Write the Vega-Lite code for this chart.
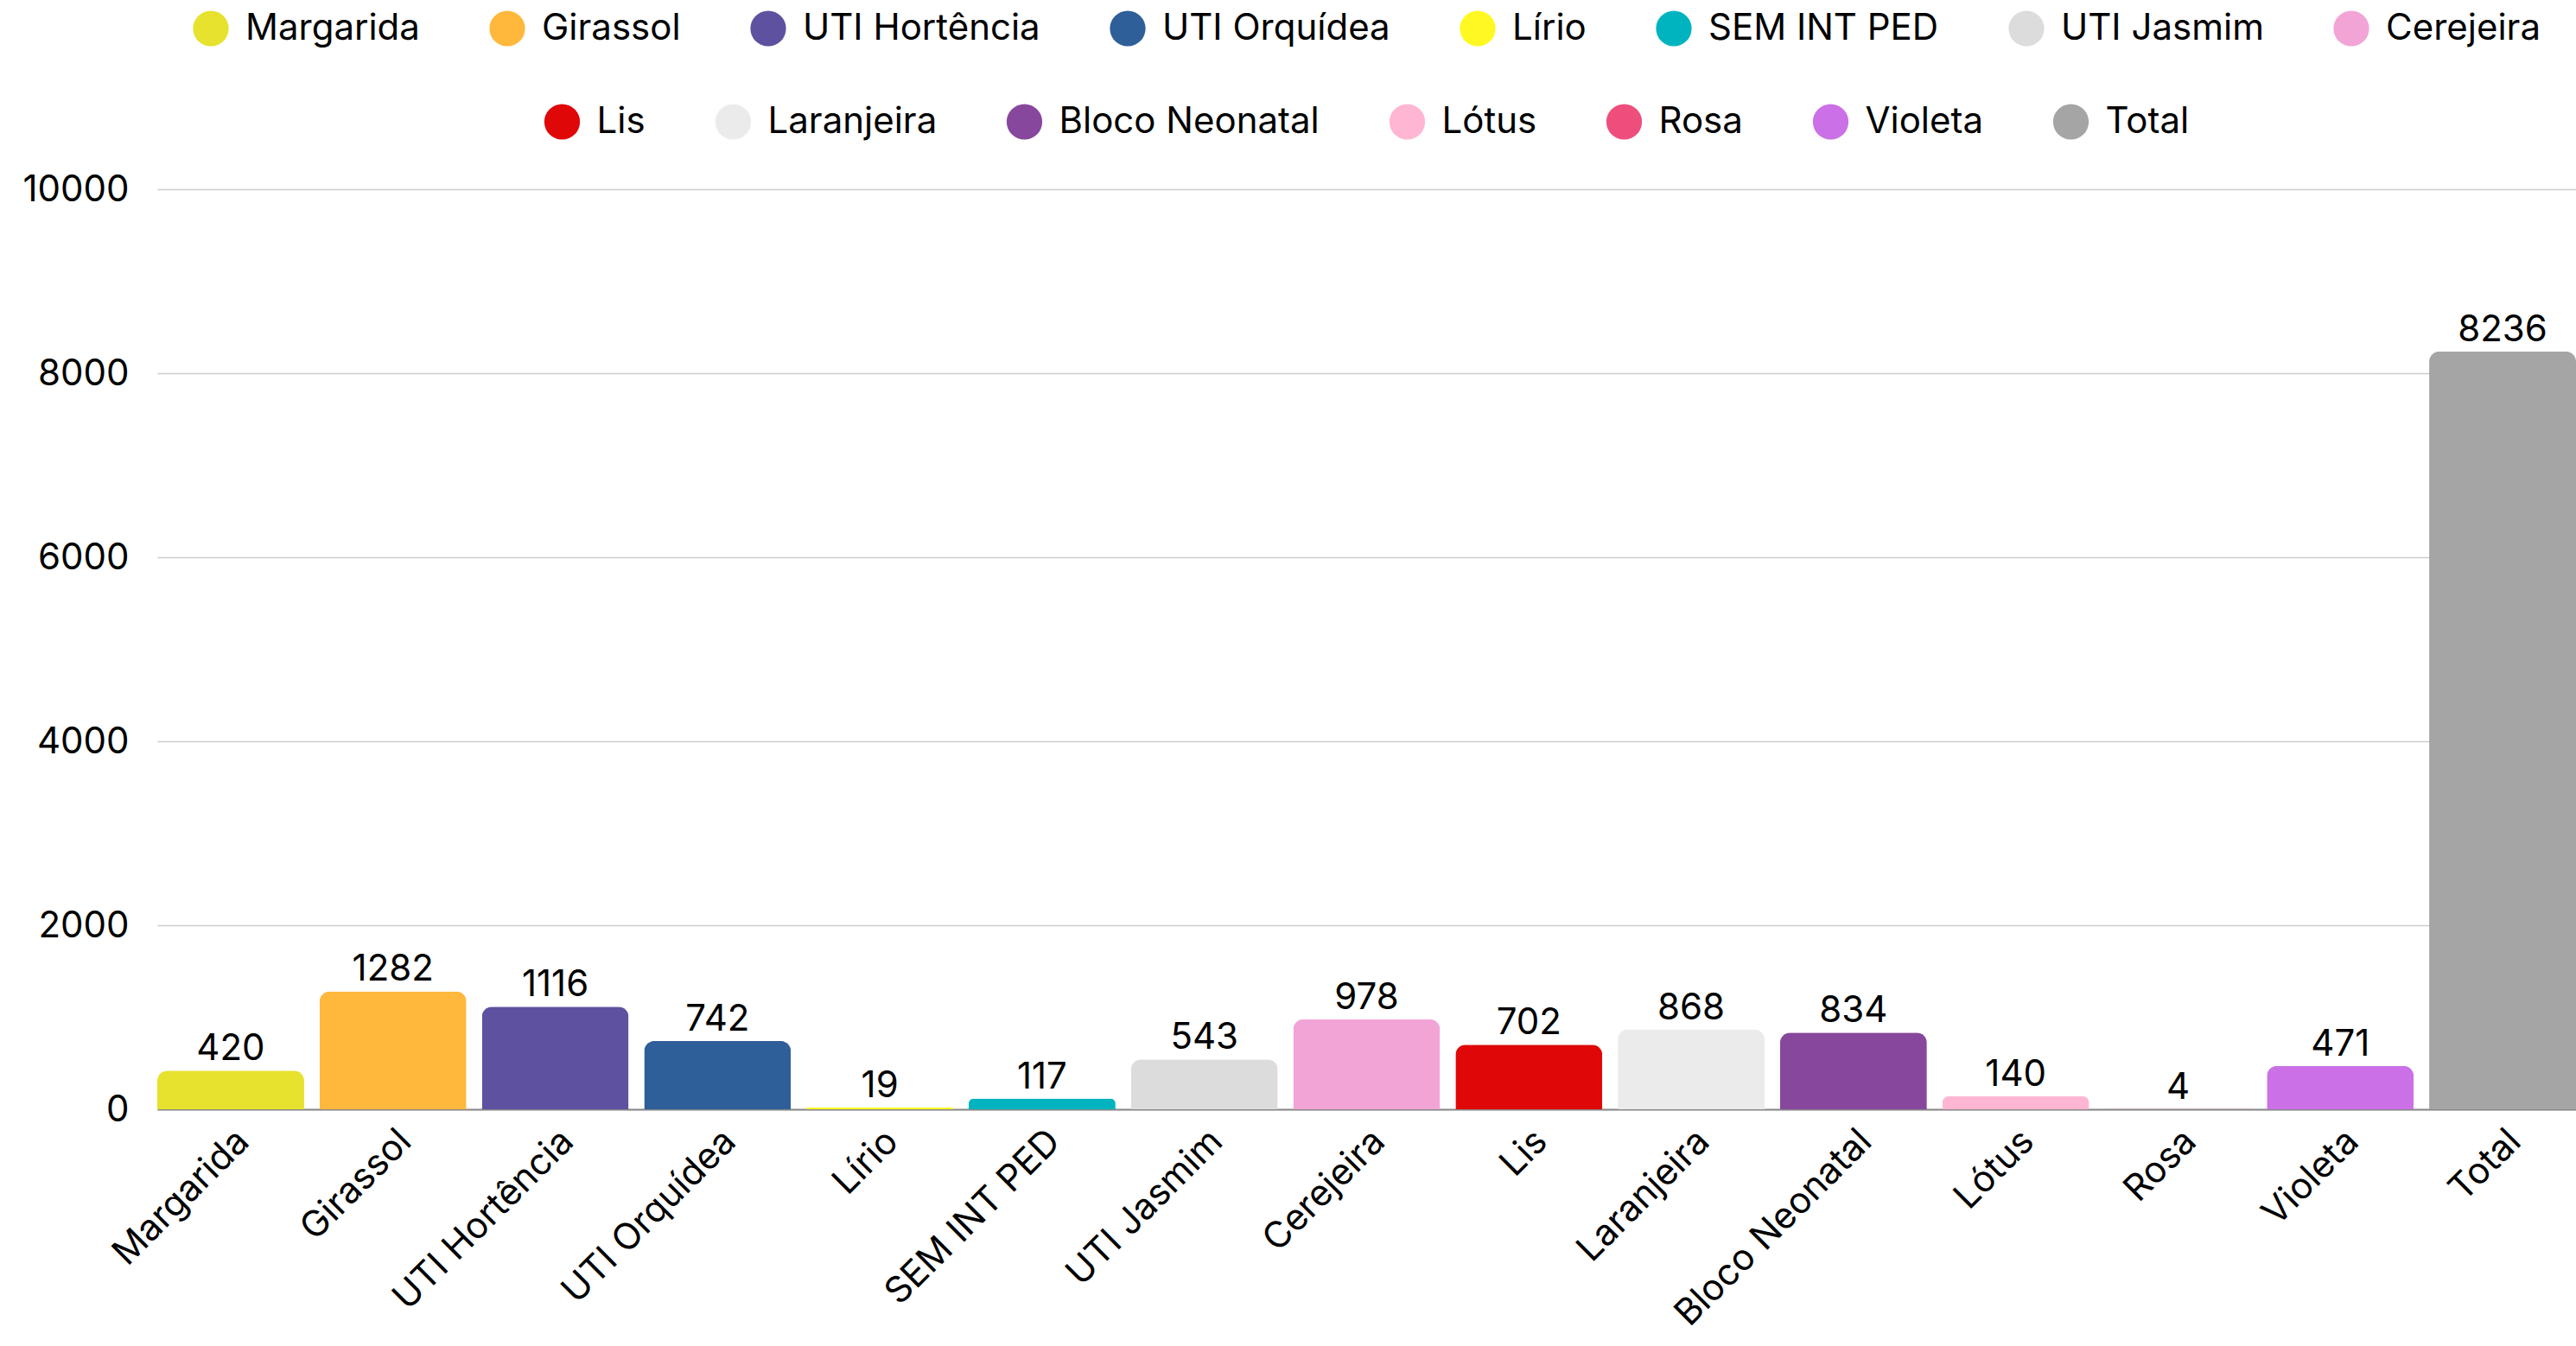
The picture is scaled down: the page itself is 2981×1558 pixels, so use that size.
{
  "$schema": "https://vega.github.io/schema/vega-lite/v6.json",
  "width": 2799,
  "height": 1065,
  "autosize": {"type": "none"},
  "padding": {"left": 182, "top": 219, "right": 0, "bottom": 274},
  "background": "white",
  "data": {
    "values": [
      {"name": "Margarida", "value": 420, "grp": 1},
      {"name": "Girassol", "value": 1282, "grp": 1},
      {"name": "UTI Hortência", "value": 1116, "grp": 1},
      {"name": "UTI Orquídea", "value": 742, "grp": 1},
      {"name": "Lírio", "value": 19, "grp": 1},
      {"name": "SEM INT PED", "value": 117, "grp": 1},
      {"name": "UTI Jasmim", "value": 543, "grp": 1},
      {"name": "Cerejeira", "value": 978, "grp": 1},
      {"name": "Lis", "value": 702, "grp": 2},
      {"name": "Laranjeira", "value": 868, "grp": 2},
      {"name": "Bloco Neonatal", "value": 834, "grp": 2},
      {"name": "Lótus", "value": 140, "grp": 2},
      {"name": "Rosa", "value": 4, "grp": 2},
      {"name": "Violeta", "value": 471, "grp": 2},
      {"name": "Total", "value": 8236, "grp": 2}
    ]
  },
  "encoding": {
    "x": {
      "field": "name",
      "type": "nominal",
      "sort": null,
      "scale": {
        "domain": ["Margarida", "Girassol", "UTI Hortência", "UTI Orquídea", "Lírio", "SEM INT PED", "UTI Jasmim", "Cerejeira", "Lis", "Laranjeira", "Bloco Neonatal", "Lótus", "Rosa", "Violeta", "Total"],
        "paddingInner": 0.095,
        "paddingOuter": 0
      },
      "axis": {
        "title": null,
        "labelAngle": -45,
        "labelFontSize": 42,
        "labelColor": "#000000",
        "labelPadding": 16,
        "labelLimit": 1000,
        "ticks": false,
        "domain": true,
        "domainColor": "#888888",
        "domainWidth": 2,
        "grid": false
      }
    },
    "y": {
      "field": "value",
      "type": "quantitative",
      "scale": {"domain": [0, 10000], "nice": false},
      "axis": {
        "title": null,
        "values": [0, 2000, 4000, 6000, 8000, 10000],
        "format": "d",
        "grid": true,
        "gridColor": "#cccccc",
        "gridWidth": 1.5,
        "domain": false,
        "ticks": false,
        "labelFontSize": 42,
        "labelColor": "#000000",
        "labelPadding": 33
      }
    }
  },
  "layer": [
    {
      "transform": [{"filter": "datum.grp == 1"}],
      "mark": {"type": "bar", "cornerRadiusEnd": 12},
      "encoding": {
        "color": {
          "field": "name",
          "type": "nominal",
          "scale": {
            "domain": ["Margarida", "Girassol", "UTI Hortência", "UTI Orquídea", "Lírio", "SEM INT PED", "UTI Jasmim", "Cerejeira"],
            "range": ["#E6E22E", "#FFB83C", "#5E519F", "#2E5F99", "#FFF823", "#00B4BF", "#DCDCDC", "#F2A4D6"]
          },
          "legend": {"orient": "top", "direction": "horizontal", "title": null}
        }
      }
    },
    {
      "transform": [{"filter": "datum.grp == 2"}],
      "mark": {"type": "bar", "cornerRadiusEnd": 12},
      "encoding": {
        "color": {
          "field": "name",
          "type": "nominal",
          "scale": {
            "domain": ["Lis", "Laranjeira", "Bloco Neonatal", "Lótus", "Rosa", "Violeta", "Total"],
            "range": ["#DF0707", "#EBEBEB", "#87479C", "#FFB6D3", "#EE4E7C", "#CB70E6", "#A5A5A5"]
          },
          "legend": {"orient": "top", "direction": "horizontal", "title": null}
        }
      }
    },
    {
      "mark": {"type": "text", "baseline": "bottom", "dy": -3, "fontSize": 42, "color": "#000000"},
      "encoding": {
        "text": {"field": "value", "type": "quantitative", "format": "d"}
      }
    }
  ],
  "resolve": {"scale": {"color": "independent"}},
  "config": {
    "font": "Inter",
    "view": {"stroke": null},
    "legend": {
      "symbolType": "circle",
      "symbolSize": 1700,
      "symbolStrokeWidth": 0,
      "symbolOpacity": 1,
      "labelFontSize": 42,
      "labelColor": "#000000",
      "labelOffset": 19,
      "columnPadding": 80,
      "labelLimit": 600,
      "offset": 57,
      "layout": {
        "top": {"anchor": "middle", "direction": "vertical", "center": true, "margin": 66}
      }
    }
  }
}
